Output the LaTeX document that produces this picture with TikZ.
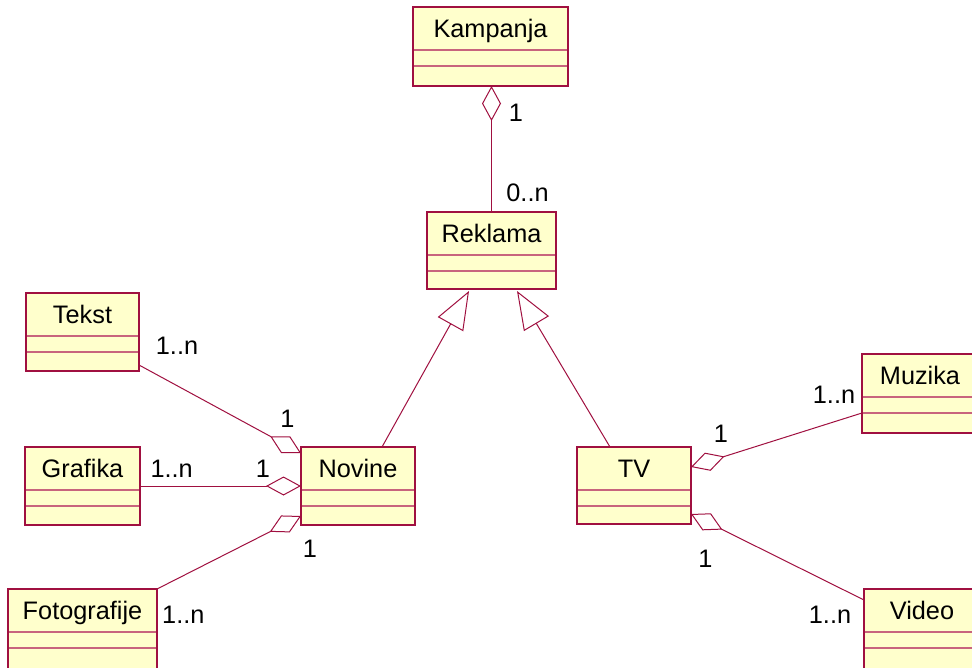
\documentclass[tikz,border=0pt]{standalone}
\usepackage{fontspec}
\setmainfont{Liberation Sans}
\usetikzlibrary{arrows.meta,calc}
\definecolor{umlline}{RGB}{160,16,64}
\definecolor{umldiv}{RGB}{200,100,125}
\definecolor{umlfill}{RGB}{255,255,204}
\newcommand{\umlclass}[6]{%
  \node[clsfill, minimum width=#4pt, minimum height=#5pt] (#1) at (#2,#3) {};
  \draw[div] ($(#1.north west)+(0,43)$) -- ($(#1.north east)+(0,43)$);
  \draw[div] ($(#1.north west)+(0,59)$) -- ($(#1.north east)+(0,59)$);
  \draw[clsborder] (#1.north west) rectangle (#1.south east);
  \node[cname] (#1-t) at ($(#1.north)+(0,30)$) {#6};
}
\begin{document}
\begin{tikzpicture}[x=1pt,y=-1pt,
  clsfill/.style={fill=umlfill, inner sep=0pt, outer sep=0pt, anchor=north west},
  clsborder/.style={draw=umlline, line width=1.5pt},
  cname/.style={anchor=base, inner sep=0pt, font=\fontsize{25.3}{30}\selectfont},
  mult/.style={anchor=base, inner sep=0pt, font=\fontsize{25.3}{30}\selectfont},
  div/.style={draw=umldiv, line width=1.2pt},
  assoc/.style={draw=umlline, line width=1pt},
  agg/.style={assoc, {Diamond[open, length=35pt, width=19pt]}-},
  gen/.style={assoc, -{Triangle[open, length=38pt, width=29pt]}},
]
\path[use as bounding box, fill=white] (0,0) rectangle (972,667);
\clip (0,0) rectangle (972,667);

\umlclass{kamp}{413}{7}{155}{79}{Kampanja}
\umlclass{rekl}{427}{212}{129}{77}{Reklama}
\umlclass{tekst}{26}{293}{113}{78}{Tekst}
\umlclass{grafika}{25}{447}{115}{78}{Grafika}
\umlclass{novine}{301}{447}{114}{78}{Novine}
\umlclass{tv}{577}{447}{114}{77}{TV}
\umlclass{foto}{8}{589}{149}{80}{Fotografije}
\umlclass{muz}{862}{354}{116}{79}{Muzika}
\umlclass{video}{864}{589}{116}{80}{Video}

\draw[agg] (rekl.north |- kamp.south) -- (rekl.north);
\draw[agg] ($(novine.north west)+(0,6)$) -- ($(tekst.south east)+(0,-6)$);
\draw[agg] (novine.west) -- (grafika.east);
\draw[agg] ($(novine.south west)+(0,-9)$) -- (foto.north east);
\draw[gen] ($(novine.north)+(24,0)$) -- ($(rekl.south)+(-22.5,2)$);
\draw[gen] ($(tv.north)+(-24,0)$) -- ($(rekl.south)+(25.5,2)$);
\draw[agg] ($(tv.north east)+(0,20)$) -- ($(muz.south west)+(0,-20)$);
\draw[agg] ($(tv.south east)+(0,-10)$) -- ($(video.north west)+(0,11)$);

\node[mult] (m1) at (516,121) {1};
\node[mult] (m2) at (527.5,201) {0..n};
\node[mult] (m3) at (177,354) {1..n};
\node[mult] (m4) at (287.5,427) {1};
\node[mult] (m5) at (171.7,477) {1..n};
\node[mult] (m6) at (263,477) {1};
\node[mult] (m7) at (310,557) {1};
\node[mult] (m8) at (183.3,623) {1..n};
\node[mult] (m9) at (721,442) {1};
\node[mult] (m10) at (834,403) {1..n};
\node[mult] (m11) at (705.5,567) {1};
\node[mult] (m12) at (830,623) {1..n};
\end{tikzpicture}
\end{document}
